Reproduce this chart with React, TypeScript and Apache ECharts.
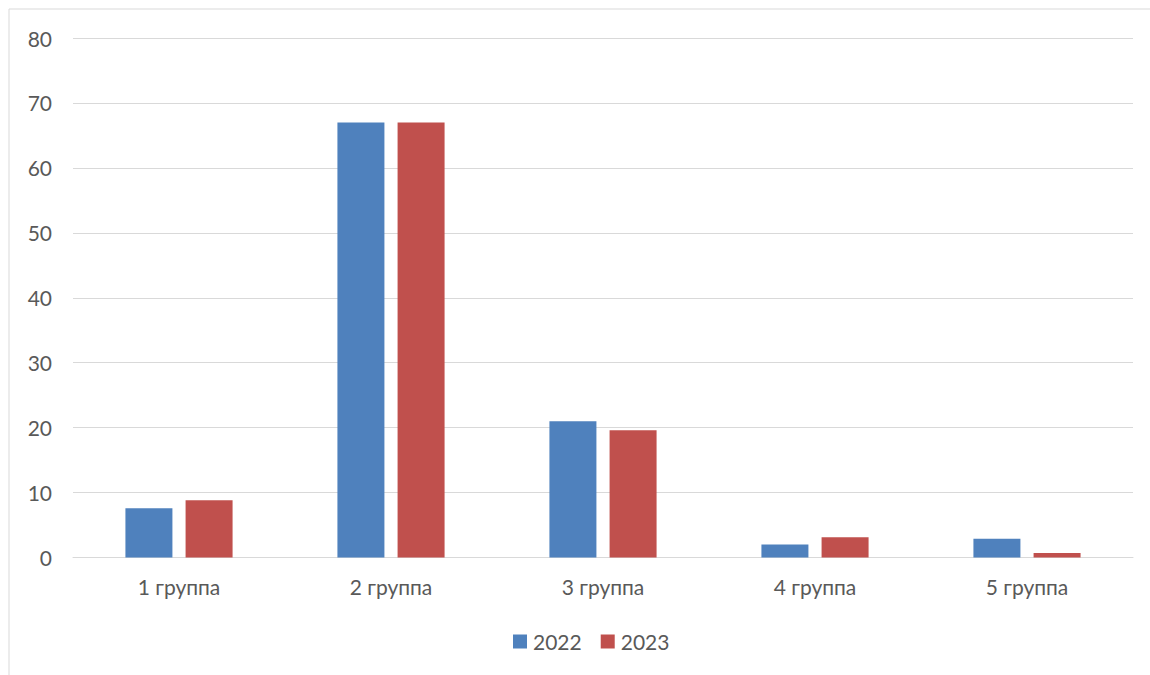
import React, { useEffect, useRef } from "react";
import * as echarts from "echarts";

const categories = ["1 группа", "2 группа", "3 группа", "4 группа", "5 группа"];
const values2022 = [7.6, 67, 21, 2, 2.9];
const values2023 = [8.8, 67, 19.6, 3.1, 0.7];
const seriesNames = ["2022", "2023"];

const FONT = "Lato, 'Noto Sans', sans-serif";
const TEXT = "#595959";

export default function App() {
  const ref = useRef<HTMLDivElement>(null);
  useEffect(() => {
    const chart = echarts.init(ref.current!, undefined, { renderer: "svg" });
    chart.setOption({
      animation: false,
      backgroundColor: "#ffffff",
      textStyle: { fontFamily: FONT },
      graphic: [
        {
          type: "rect",
          shape: { x: 9, y: 9, width: 1200, height: 720 },
          style: { fill: "none", stroke: "#D9D9D9", lineWidth: 1 },
          silent: true,
        },
      ],
      grid: { left: 73, right: 17, top: 38, bottom: 117.5 },
      legend: {
        top: 631,
        left: 513,
        itemWidth: 14,
        itemHeight: 14,
        itemGap: 19,
        icon: "rect",
        padding: 0,
        textStyle: { color: TEXT, fontSize: 21, fontFamily: FONT, padding: [0, 0, 0, 1] },
        data: seriesNames,
      },
      xAxis: {
        type: "category",
        data: categories,
        axisTick: { show: false },
        axisLine: { lineStyle: { color: "#D9D9D9", width: 1 } },
        axisLabel: { color: TEXT, fontSize: 21, margin: 18, fontFamily: FONT },
      },
      yAxis: {
        type: "value",
        min: 0,
        max: 80,
        interval: 10,
        axisLine: { show: false },
        axisTick: { show: false },
        splitLine: { lineStyle: { color: "#D9D9D9", width: 1 } },
        axisLabel: { color: TEXT, fontSize: 21, margin: 21, fontFamily: FONT },
      },
      series: [
        {
          name: seriesNames[0],
          type: "bar",
          data: values2022,
          barWidth: 47,
          barGap: "28%",
          itemStyle: { color: "#4F81BD" },
        },
        {
          name: seriesNames[1],
          type: "bar",
          data: values2023,
          barWidth: 47,
          itemStyle: { color: "#C0504D" },
        },
      ],
    });
    return () => chart.dispose();
  }, []);
  return (
    <div
      ref={ref}
      style={{ position: "absolute", left: 0, top: 0, width: 1150, height: 675 }}
    />
  );
}
